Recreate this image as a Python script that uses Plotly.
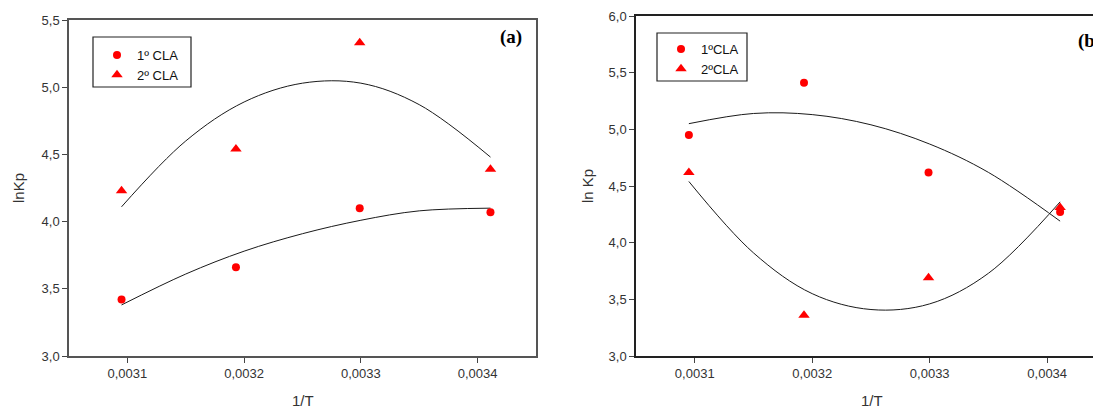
import plotly.graph_objects as go

# ---------------- data ----------------
inv_T = [0.003095, 0.003193, 0.003299, 0.003411]

# panel (a)
a_cla1 = [3.42, 3.66, 4.10, 4.07]
a_cla2 = [4.23, 4.54, 5.33, 4.39]
# panel (b)
b_cla1 = [4.95, 5.41, 4.62, 4.27]
b_cla2 = [4.62, 3.36, 3.69, 4.31]

# fitted trend curves
fit_x = [0.003095, 0.00315, 0.0032, 0.00325, 0.0033, 0.00335, 0.003411]
a_fit1 = [3.38, 3.61, 3.78, 3.91, 4.01, 4.08, 4.10]
a_fit2 = [4.11, 4.60, 4.89, 5.03, 5.03, 4.87, 4.48]
b_fit1 = [5.05, 5.14, 5.13, 5.04, 4.87, 4.62, 4.19]
b_fit2 = [4.54, 3.91, 3.55, 3.41, 3.46, 3.73, 4.36]

x_ticks = [0.0031, 0.0032, 0.0033, 0.0034]
x_ticklabels = ["0,0031", "0,0032", "0,0033", "0,0034"]
a_yticks = [3.0, 3.5, 4.0, 4.5, 5.0, 5.5]
a_yticklabels = ["3,0", "3,5", "4,0", "4,5", "5,0", "5,5"]
b_yticks = [3.0, 3.5, 4.0, 4.5, 5.0, 5.5, 6.0]
b_yticklabels = ["3,0", "3,5", "4,0", "4,5", "5,0", "5,5", "6,0"]

a_names = ["1º CLA", "2º CLA"]
b_names = ["1ºCLA", "2ºCLA"]

# ---------------- figure ----------------
W, H = 1093, 409
RED = "#ff0000"
LINE = "#1a1a1a"
FONT = "Liberation Sans, Arial, sans-serif"
SERIF = "Liberation Serif, Times New Roman, serif"

fig = go.Figure()

# panel (a)
fig.add_trace(go.Scatter(x=fit_x, y=a_fit1, mode="lines", line=dict(color=LINE, width=1, shape="spline"),
                         showlegend=False, hoverinfo="skip", xaxis="x", yaxis="y"))
fig.add_trace(go.Scatter(x=fit_x, y=a_fit2, mode="lines", line=dict(color=LINE, width=1, shape="spline"),
                         showlegend=False, hoverinfo="skip", xaxis="x", yaxis="y"))
fig.add_trace(go.Scatter(x=inv_T, y=a_cla1, mode="markers", name=a_names[0],
                         marker=dict(symbol="circle", size=8, color=RED), xaxis="x", yaxis="y", legend="legend"))
fig.add_trace(go.Scatter(x=inv_T, y=a_cla2, mode="markers", name=a_names[1],
                         marker=dict(symbol="triangle-up", size=10, color=RED), xaxis="x", yaxis="y", legend="legend"))

# panel (b)
fig.add_trace(go.Scatter(x=fit_x, y=b_fit1, mode="lines", line=dict(color=LINE, width=1, shape="spline"),
                         showlegend=False, hoverinfo="skip", xaxis="x2", yaxis="y2"))
fig.add_trace(go.Scatter(x=fit_x, y=b_fit2, mode="lines", line=dict(color=LINE, width=1, shape="spline"),
                         showlegend=False, hoverinfo="skip", xaxis="x2", yaxis="y2"))
fig.add_trace(go.Scatter(x=inv_T, y=b_cla1, mode="markers", name=b_names[0],
                         marker=dict(symbol="circle", size=8, color=RED), xaxis="x2", yaxis="y2", legend="legend2"))
fig.add_trace(go.Scatter(x=inv_T, y=b_cla2, mode="markers", name=b_names[1],
                         marker=dict(symbol="triangle-up", size=10, color=RED), xaxis="x2", yaxis="y2", legend="legend2"))

tickfont = dict(family=FONT, size=13, color="#333333")
common_x = dict(showgrid=False, zeroline=False, showline=True, mirror=True, ticks="outside", ticklen=5,
                tickwidth=1, tickcolor="#444444", tickfont=tickfont, tickvals=x_ticks, ticktext=x_ticklabels,
                fixedrange=True, automargin=False)


def ann(text, x, y, size, family=FONT, angle=0, xanchor="center", color="#333333"):
    return dict(text=text, x=x / W, y=1 - y / H, xref="paper", yref="paper", showarrow=False,
                xanchor=xanchor, yanchor="middle", textangle=angle,
                font=dict(family=family, size=size, color=color))


fig.update_layout(
    width=W, height=H,
    margin=dict(l=0, r=0, t=0, b=0, pad=0, autoexpand=False),
    paper_bgcolor="white", plot_bgcolor="white",
    xaxis=dict(common_x, domain=[69 / W, 536 / W], range=[0.00305, 0.00345], anchor="y",
               linecolor="#555555", linewidth=1.5),
    yaxis=dict(domain=[(H - 356) / H, (H - 20) / H], range=[3.0, 5.5], anchor="x", automargin=False,
               showgrid=False, zeroline=False, showline=True, mirror=True, ticks="outside", ticklen=5,
               tickcolor="#444444", linecolor="#555555", linewidth=1.5, tickfont=tickfont,
               tickvals=a_yticks, ticktext=a_yticklabels),
    xaxis2=dict(common_x, domain=[636 / W, 1.0], range=[0.00305, 0.003439], anchor="y2",
                linecolor="#222222", linewidth=1.5),
    yaxis2=dict(domain=[(H - 356) / H, (H - 16) / H], range=[3.0, 6.0], anchor="x2", automargin=False,
                showgrid=False, zeroline=False, showline=True, mirror=False, ticks="outside", ticklen=5,
                tickcolor="#444444", linecolor="#222222", linewidth=1.5, tickfont=tickfont,
                tickvals=b_yticks, ticktext=b_yticklabels),
    legend=dict(x=97 / W, y=1 - 40 / H, xanchor="left", yanchor="top", bgcolor="rgba(0,0,0,0)",
                borderwidth=0, font=dict(family=FONT, size=13, color="#111111"), tracegroupgap=0),
    legend2=dict(x=661 / W, y=1 - 34 / H, xanchor="left", yanchor="top", bgcolor="rgba(0,0,0,0)",
                 borderwidth=0, font=dict(family=FONT, size=13, color="#111111"), tracegroupgap=0),
    shapes=[
        dict(type="rect", xref="paper", yref="paper", x0=93 / W, x1=191 / W, y0=1 - 87 / H, y1=1 - 37 / H,
             line=dict(color="#222222", width=1.2)),
        dict(type="rect", xref="paper", yref="paper", x0=657 / W, x1=747 / W, y0=1 - 81 / H, y1=1 - 33 / H,
             line=dict(color="#222222", width=1.2)),
    ],
    annotations=[
        ann("<b>(a)</b>", 511, 37, 19, family=SERIF, color="#000000"),
        ann("<b>(b)</b>", 1076, 41, 19, family=SERIF, xanchor="left", color="#000000"),
        ann("lnKp", 18, 188, 15, angle=-90),
        ann("1/T", 303, 400, 15),
        ann("ln Kp", 587, 186, 15, angle=-90),
        ann("1/T", 872, 400, 15),
    ],
)

fig.write_html(
    "out.html",
    config={"displayModeBar": False},
    post_script="document.body.style.margin='0';document.body.style.overflow='hidden';",
)
